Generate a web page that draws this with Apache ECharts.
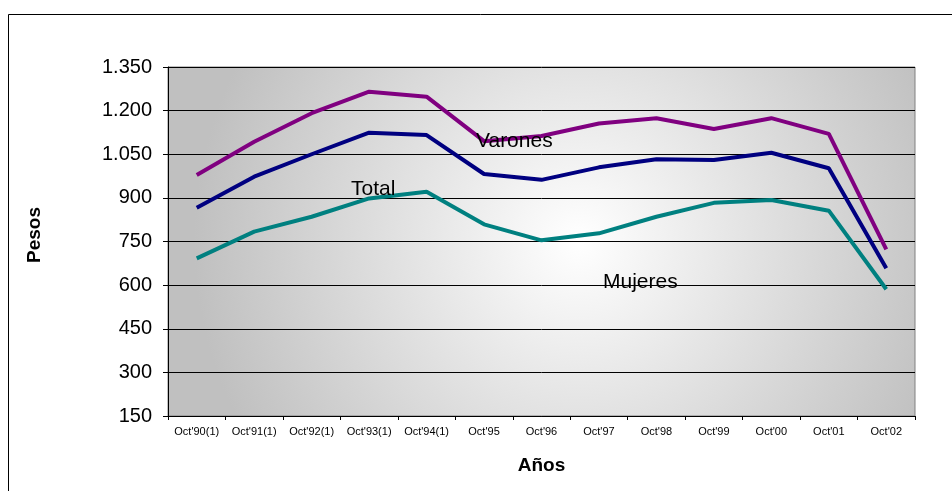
<!DOCTYPE html>
<html>
<head>
<meta charset="utf-8">
<script src="https://cdn.jsdelivr.net/npm/echarts@6/dist/echarts.min.js"></script>
<style>
  html, body { margin: 0; padding: 0; background: #fff; }
  #chart { width: 952px; height: 491px; }
</style>
</head>
<body>
<div id="chart"></div>
<script>
const categories = ['Oct\'90(1)', 'Oct\'91(1)', 'Oct\'92(1)', 'Oct\'93(1)', 'Oct\'94(1)', 'Oct\'95',
  'Oct\'96', 'Oct\'97', 'Oct\'98', 'Oct\'99', 'Oct\'00', 'Oct\'01', 'Oct\'02'];
const varones = [979, 1093, 1191, 1265, 1248, 1095, 1113, 1156, 1174, 1137, 1174, 1120, 723];
const total = [866, 973, 1050, 1124, 1116, 982, 962, 1005, 1033, 1030, 1055, 1002, 658];
const mujeres = [692, 784, 835, 898, 921, 809, 754, 778, 835, 883, 893, 856, 586];

const chart = echarts.init(document.getElementById('chart'));

const font = 'Liberation Sans, Arial, sans-serif';

const option = {
  animation: false,
  grid: {
    left: 168,
    right: 37,
    top: 67,
    bottom: 75,
    show: true,
    borderColor: '#808080',
    borderWidth: 1,
    backgroundColor: {
      type: 'radial',
      x: 0.55,
      y: 0.5,
      r: 1.1,
      colorStops: [
        { offset: 0, color: '#ffffff' },
        { offset: 1, color: '#c0c0c0' }
      ]
    }
  },
  xAxis: {
    type: 'category',
    data: categories,
    boundaryGap: true,
    name: 'Años',
    nameLocation: 'middle',
    nameGap: 40,
    nameTextStyle: { fontFamily: font, fontSize: 19, fontWeight: 'bold', color: '#000' },
    axisLine: { lineStyle: { color: '#000', width: 1 } },
    axisTick: { show: true, length: 4, lineStyle: { color: '#000' }, alignWithLabel: false },
    axisLabel: { fontFamily: font, fontSize: 11, color: '#000', margin: 10, interval: 0 },
    splitLine: { show: false }
  },
  yAxis: {
    type: 'value',
    min: 150,
    max: 1350,
    interval: 150,
    axisLine: { show: true, lineStyle: { color: '#000', width: 1 } },
    axisTick: { show: true, length: 5, lineStyle: { color: '#000' } },
    axisLabel: {
      fontFamily: font, fontSize: 20, color: '#000', margin: 16, padding: [5, 0, 0, 0],
      formatter: v => v >= 1000 ? Math.floor(v / 1000) + '.' + String(v % 1000).padStart(3, '0') : String(v)
    },
    splitLine: { show: true, lineStyle: { color: '#000', width: 1 } }
  },
  series: [
    {
      name: 'Varones', type: 'line', data: varones, symbol: 'none',
      lineStyle: { color: '#800080', width: 4 }, z: 3
    },
    {
      name: 'Total', type: 'line', data: total, symbol: 'none',
      lineStyle: { color: '#000080', width: 4 }, z: 3
    },
    {
      name: 'Mujeres', type: 'line', data: mujeres, symbol: 'none',
      lineStyle: { color: '#008080', width: 4 }, z: 3
    }
  ],
  graphic: [
    {
      type: 'rect', left: 6, top: 12, z: -10, silent: true,
      shape: { width: 960, height: 500 },
      style: { fill: 'none', stroke: '#000', lineWidth: 1 }
    },
    {
      type: 'text', x: 35, y: 235, rotation: Math.PI / 2, z: 10,
      style: { text: 'Pesos', font: 'bold 19px ' + font, fill: '#000', align: 'center', verticalAlign: 'middle' }
    },
    { type: 'text', left: 476, top: 131, z: 10,
      style: { text: 'Varones', font: '21px ' + font, fill: '#000' } },
    { type: 'text', left: 351, top: 179, z: 10,
      style: { text: 'Total', font: '21px ' + font, fill: '#000' } },
    { type: 'text', left: 603, top: 272, z: 10,
      style: { text: 'Mujeres', font: '21px ' + font, fill: '#000' } }
  ]
};

chart.setOption(option);
</script>
</body>
</html>
